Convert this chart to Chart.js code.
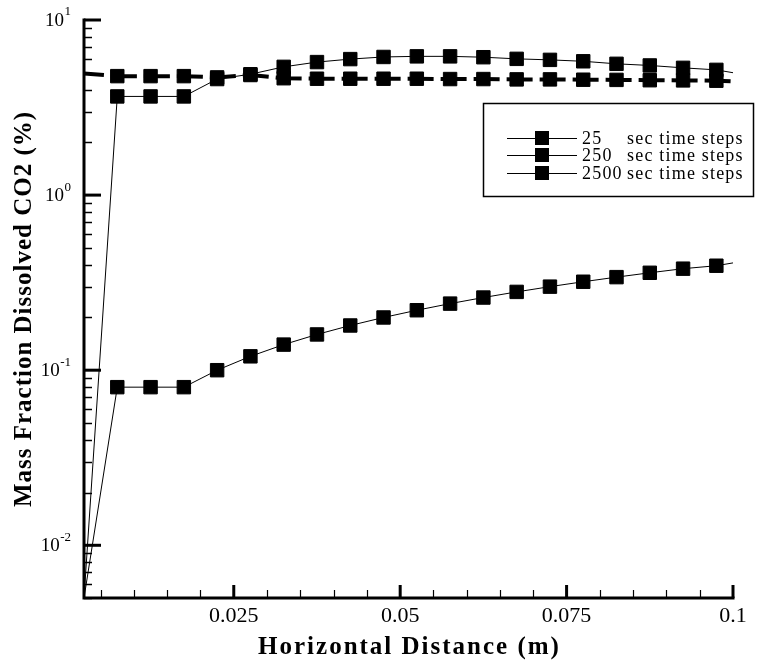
<!DOCTYPE html>
<html lang="en">
<head>
<meta charset="UTF-8">
<title>Mass Fraction Dissolved CO2</title>
<script src="https://cdn.jsdelivr.net/npm/chart.js"></script>
<style>
  html, body { margin: 0; padding: 0; background: #fff; }
  #wrap { width: 758px; height: 661px; }
</style>
</head>
<body>
<div id="wrap"><canvas id="grafico"></canvas></div>
<script>
// horizontal distance (m) of every node; first and last are line-only ends
const distancia = [0.0025, 0.0075, 0.0125, 0.0175, 0.0225, 0.0275, 0.0325, 0.0375, 0.0425, 0.0475,
                   0.0525, 0.0575, 0.0625, 0.0675, 0.0725, 0.0775, 0.0825, 0.0875, 0.0925, 0.0975, 0.1];

// mass fraction dissolved CO2 (%)
const serie25   = [0.005, 3.66, 3.66, 3.66, 4.6, 4.9, 5.4, 5.75, 5.98, 6.15, 6.2,
                   6.2, 6.13, 6.0, 5.92, 5.81, 5.62, 5.5, 5.33, 5.19, 5.0];
const serie250  = [4.95, 4.78, 4.78, 4.78, 4.7, 4.85, 4.65, 4.62, 4.62, 4.62, 4.62,
                   4.6, 4.6, 4.58, 4.58, 4.56, 4.55, 4.53, 4.52, 4.5, 4.46];
const serie2500 = [0.005, 0.08, 0.08, 0.08, 0.1, 0.12, 0.14, 0.16, 0.18, 0.2, 0.22,
                   0.24, 0.26, 0.28, 0.3, 0.32, 0.34, 0.36, 0.38, 0.395, 0.41];

const etiquetas = ['25 sec time steps', '250 sec time steps', '2500 sec time steps'];

const xTickValues = [0.025, 0.05, 0.075, 0.1];
const xTickLabels = ['0.025', '0.05', '0.075', '0.1'];
const yTickValues = [0.01, 0.1, 1, 10];
const yTickExp    = ['-2', '-1', '0', '1'];

const ultimo = distancia.length - 1;
const radio = c => (c.dataIndex === 0 || c.dataIndex === ultimo) ? 0 : 9.5;
const puntos = vals => distancia.map((x, i) => ({ x: x, y: vals[i] }));

const serif = '"Liberation Serif", "Times New Roman", serif';

// inward ticks, axis lines, superscript labels, titles and the boxed legend
const ejesTecplot = {
  id: 'ejesTecplot',
  afterDatasetsDraw(chart) {
    const { ctx, chartArea: a, scales: { x, y } } = chart;
    ctx.save();
    ctx.strokeStyle = '#000';
    ctx.fillStyle = '#000';

    // y minor ticks
    ctx.lineWidth = 1.5;
    for (let d = -3; d <= 0; d++) {
      for (let m = 2; m <= 9; m++) {
        const v = m * Math.pow(10, d);
        if (v < y.min - 1e-12 || v > y.max) continue;
        const py = Math.round(y.getPixelForValue(v)) + 0.5;
        ctx.beginPath(); ctx.moveTo(a.left, py); ctx.lineTo(a.left + 8, py); ctx.stroke();
      }
    }
    // y major ticks
    ctx.lineWidth = 3;
    yTickValues.forEach(v => {
      const py = y.getPixelForValue(v);
      ctx.beginPath(); ctx.moveTo(a.left, py); ctx.lineTo(a.left + 17, py); ctx.stroke();
    });
    // x minor ticks
    ctx.lineWidth = 1.2;
    for (let k = 1; k < 20; k++) {
      if (k % 5 === 0) continue;
      const px = Math.round(x.getPixelForValue(k * 0.005)) + 0.5;
      ctx.beginPath(); ctx.moveTo(px, a.bottom); ctx.lineTo(px, a.bottom - 8); ctx.stroke();
    }
    // x major ticks
    ctx.lineWidth = 3;
    xTickValues.forEach(v => {
      const px = x.getPixelForValue(v);
      ctx.beginPath(); ctx.moveTo(px, a.bottom); ctx.lineTo(px, a.bottom - 13); ctx.stroke();
    });
    // axis lines
    ctx.lineWidth = 3;
    ctx.beginPath();
    ctx.moveTo(a.left, a.top - 1.5);
    ctx.lineTo(a.left, a.bottom);
    ctx.lineTo(a.right + 1.5, a.bottom);
    ctx.stroke();

    // y tick labels: 10 with superscript exponent
    yTickValues.forEach((v, i) => {
      const py = y.getPixelForValue(v);
      ctx.font = '13px ' + serif;
      ctx.textBaseline = 'middle';
      ctx.textAlign = 'left';
      const ew = ctx.measureText(yTickExp[i]).width;
      const xr = 71;
      ctx.fillText(yTickExp[i], xr - ew, py - 8);
      ctx.font = '19px ' + serif;
      ctx.textAlign = 'right';
      ctx.fillText('10', xr - ew - 0.5, py + 1);
    });

    // axis titles
    ctx.font = 'bold 25px ' + serif;
    ctx.textAlign = 'center';
    ctx.textBaseline = 'middle';
    ctx.letterSpacing = '2px';
    ctx.fillText('Horizontal Distance (m)', (a.left + a.right) / 2 + 1, 648);
    ctx.save();
    ctx.translate(25, (a.top + a.bottom) / 2);
    ctx.rotate(-Math.PI / 2);
    ctx.letterSpacing = '1px';
    ctx.fillText('Mass Fraction Dissolved CO2 (%)', 0, 0);
    ctx.restore();

    // legend
    ctx.letterSpacing = '0px';
    ctx.lineWidth = 1.5;
    ctx.strokeRect(483.5, 103.5, 270, 93);
    const filas = [138, 155, 173];
    ctx.font = '18px ' + serif;
    ctx.textAlign = 'left';
    ctx.textBaseline = 'middle';
    chart.data.datasets.forEach((ds, i) => {
      const fy = filas[i];
      ctx.lineWidth = 1;
      ctx.beginPath(); ctx.moveTo(507, fy + 0.5); ctx.lineTo(577, fy + 0.5); ctx.stroke();
      ctx.fillRect(542 - 7, fy - 7, 14, 14);
      const sp = ds.label.indexOf(' ');
      ctx.letterSpacing = '1.2px';
      ctx.fillText(ds.label.slice(0, sp), 582, fy + 1);
      ctx.fillText(ds.label.slice(sp + 1), 627, fy + 1);
      ctx.letterSpacing = '0px';
    });
    ctx.restore();
  }
};

const ctx = document.getElementById('grafico').getContext('2d');
new Chart(ctx, {
  type: 'line',
  data: {
    datasets: [
      {
        label: etiquetas[0],
        data: puntos(serie25),
        borderColor: '#000', backgroundColor: '#000', borderWidth: 1,
        pointStyle: 'rect', pointRadius: radio, pointBorderWidth: 1,
        pointBackgroundColor: '#000', pointBorderColor: '#000',
        fill: false, tension: 0
      },
      {
        label: etiquetas[1],
        data: puntos(serie250),
        borderColor: '#000', backgroundColor: '#000', borderWidth: 4,
        borderDash: [26, 7], borderDashOffset: 6,
        pointStyle: 'rect', pointRadius: radio, pointBorderWidth: 1,
        pointBackgroundColor: '#000', pointBorderColor: '#000',
        fill: false, tension: 0
      },
      {
        label: etiquetas[2],
        data: puntos(serie2500),
        borderColor: '#000', backgroundColor: '#000', borderWidth: 1,
        pointStyle: 'rect', pointRadius: radio, pointBorderWidth: 1,
        pointBackgroundColor: '#000', pointBorderColor: '#000',
        fill: false, tension: 0
      }
    ]
  },
  options: {
    responsive: true,
    maintainAspectRatio: false,
    animation: false,
    layout: { padding: { top: 20, right: 25, left: 0, bottom: 0 } },
    plugins: {
      legend: { display: false },
      tooltip: { enabled: false }
    },
    scales: {
      x: {
        type: 'linear',
        min: 0.0025,
        max: 0.1,
        grid: { display: false, drawTicks: false },
        border: { display: false },
        ticks: {
          stepSize: 0.005,
          autoSkip: false,
          maxRotation: 0,
          padding: 5,
          color: '#000',
          font: { family: serif, size: 22 },
          callback: v => {
            const i = xTickValues.findIndex(t => Math.abs(t - v) < 1e-9);
            return i >= 0 ? xTickLabels[i] : '';
          }
        },
        afterFit: s => { s.height = 63; }
      },
      y: {
        type: 'logarithmic',
        min: 0.005,
        max: 10,
        grid: { display: false, drawTicks: false },
        border: { display: false },
        ticks: { display: false },
        afterFit: s => { s.width = 84; }
      }
    }
  },
  plugins: [ejesTecplot]
});
</script>
</body>
</html>
